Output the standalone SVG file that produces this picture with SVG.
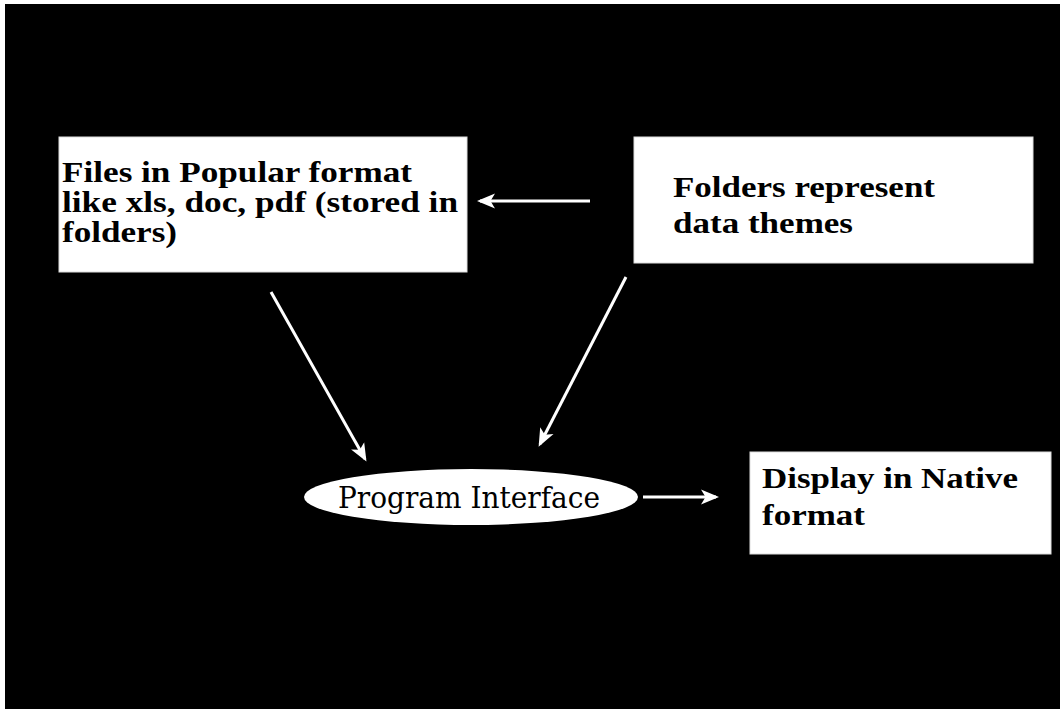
<svg xmlns="http://www.w3.org/2000/svg" width="1060" height="709" viewBox="0 0 1060 709">
<defs>
<style>
.box{fill:#fff;stroke:#ddd;stroke-width:1}
.t{font-family:"Liberation Serif","Times New Roman",serif;font-weight:bold;font-size:29px;fill:#000}
.pi{font-family:"DejaVu Serif","Liberation Serif",serif;font-size:29px;fill:#000}
.c{stroke:#fff;stroke-width:3;fill:none;marker-end:url(#ah)}
</style>
<marker id="ah" markerWidth="6" markerHeight="6" refX="5" refY="3" orient="auto" markerUnits="strokeWidth">
<path d="M0,0.5 L6,3 L0,5.5 L1.5,3 Z" fill="#fff"/>
</marker>
</defs>
<rect x="0" y="0" width="1060" height="709" fill="#fff"/>
<rect x="5" y="4" width="1055" height="705" fill="#000"/>
<g id="connectors">
<line class="c" x1="590" y1="201" x2="480" y2="201"/>
<line class="c" x1="271" y1="292" x2="365" y2="459"/>
<line class="c" x1="626" y1="277" x2="540" y2="444"/>
<line class="c" x1="643" y1="497" x2="716" y2="497"/>
</g>
<g id="files">
<rect class="box" x="59" y="137" width="408" height="135"/>
<text class="t" x="62" y="182" textLength="350" lengthAdjust="spacingAndGlyphs">Files in Popular format</text>
<text class="t" x="62" y="212" textLength="396" lengthAdjust="spacingAndGlyphs">like xls, doc, pdf (stored in</text>
<text class="t" x="62" y="242" textLength="115" lengthAdjust="spacingAndGlyphs">folders)</text>
</g>
<g id="folders">
<rect class="box" x="634" y="137" width="399" height="126"/>
<text class="t" x="673" y="197" textLength="262" lengthAdjust="spacingAndGlyphs">Folders represent</text>
<text class="t" x="673" y="233" textLength="180" lengthAdjust="spacingAndGlyphs">data themes</text>
</g>
<g id="program">
<ellipse cx="471" cy="497" rx="167" ry="28" fill="#fff"/>
<text class="pi" x="338" y="508" textLength="262" lengthAdjust="spacingAndGlyphs">Program Interface</text>
</g>
<g id="display">
<rect class="box" x="750" y="452" width="301" height="102"/>
<text class="t" x="762" y="488" textLength="256" lengthAdjust="spacingAndGlyphs">Display in Native</text>
<text class="t" x="762" y="525" textLength="103" lengthAdjust="spacingAndGlyphs">format</text>
</g>
</svg>
